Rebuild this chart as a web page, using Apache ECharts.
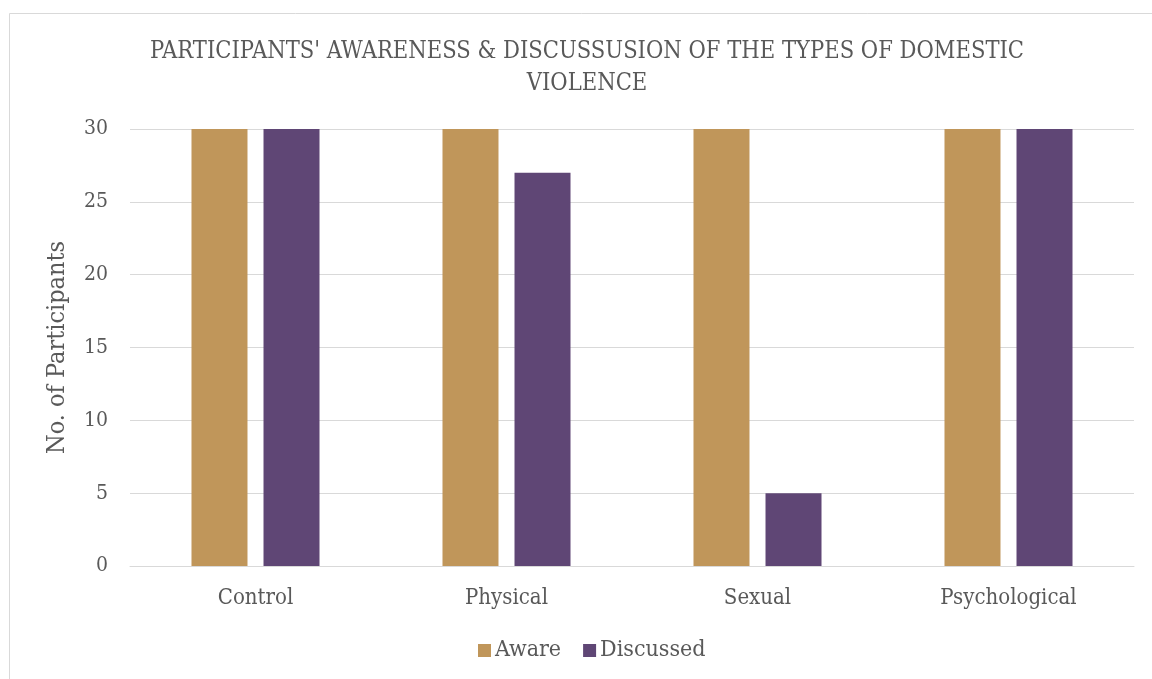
<!DOCTYPE html>
<html>
<head>
<meta charset="utf-8">
<script src="https://cdn.jsdelivr.net/npm/echarts@6/dist/echarts.min.js"></script>
<style>html,body{margin:0;padding:0;background:#fff}#c{width:1152px;height:679px}</style>
</head>
<body>
<div id="c"></div>
<script>
const categories = ['Control', 'Physical', 'Sexual', 'Psychological'];
const aware = [30, 30, 30, 30];
const discussed = [30, 27, 5, 30];
const yTicks = { min: 0, max: 30, interval: 5 };

const FONT = "'DejaVu Serif Condensed', 'DejaVu Serif', serif";
const TXT = '#595959';
const chart = echarts.init(document.getElementById('c'), null, { renderer: 'canvas' });
chart.setOption({
  backgroundColor: '#fff',
  animation: false,
  textStyle: { fontFamily: FONT, color: TXT },
  graphic: [{
    type: 'rect', silent: true, z: -1,
    shape: { x: 9.5, y: 13.5, width: 1300, height: 800 },
    style: { fill: 'none', stroke: '#D9D9D9', lineWidth: 1 }
  }],
  title: {
    text: "PARTICIPANTS' AWARENESS & DISCUSSUSION OF THE TYPES OF DOMESTIC\nVIOLENCE",
    left: 587, top: 36, padding: 0, textAlign: 'center',
    textStyle: { fontFamily: FONT, fontSize: 23.5, fontWeight: 'normal', color: TXT, lineHeight: 32 }
  },
  legend: {
    bottom: 12, left: 473,
    itemWidth: 13, itemHeight: 13, itemGap: 22,
    icon: 'rect',
    textStyle: { fontFamily: FONT, fontSize: 23, color: TXT, padding: [0, 0, 0, -1] },
    data: ['Aware', 'Discussed']
  },
  grid: { left: 130, right: 18, top: 129, bottom: 113, containLabel: false },
  xAxis: {
    type: 'category', data: categories,
    axisLine: { show: true, lineStyle: { color: '#D9D9D9', width: 1 } },
    axisTick: { show: false },
    axisLabel: { fontFamily: FONT, fontSize: 22, color: TXT, margin: 21 }
  },
  yAxis: {
    type: 'value', min: yTicks.min, max: yTicks.max, interval: yTicks.interval,
    name: 'No. of Participants', nameLocation: 'middle', nameGap: 60, nameRotate: 90,
    nameTextStyle: { fontFamily: FONT, fontSize: 25, color: TXT },
    axisLine: { show: false }, axisTick: { show: false },
    axisLabel: { fontFamily: FONT, fontSize: 21, color: TXT, margin: 22 },
    splitLine: { lineStyle: { color: '#D9D9D9', width: 1 } }
  },
  series: [
    { name: 'Aware', type: 'bar', data: aware, barWidth: 56, barGap: '28.6%', itemStyle: { color: '#C0965A' } },
    { name: 'Discussed', type: 'bar', data: discussed, barWidth: 56, itemStyle: { color: '#5F4675' } }
  ]
});
</script>
</body>
</html>
